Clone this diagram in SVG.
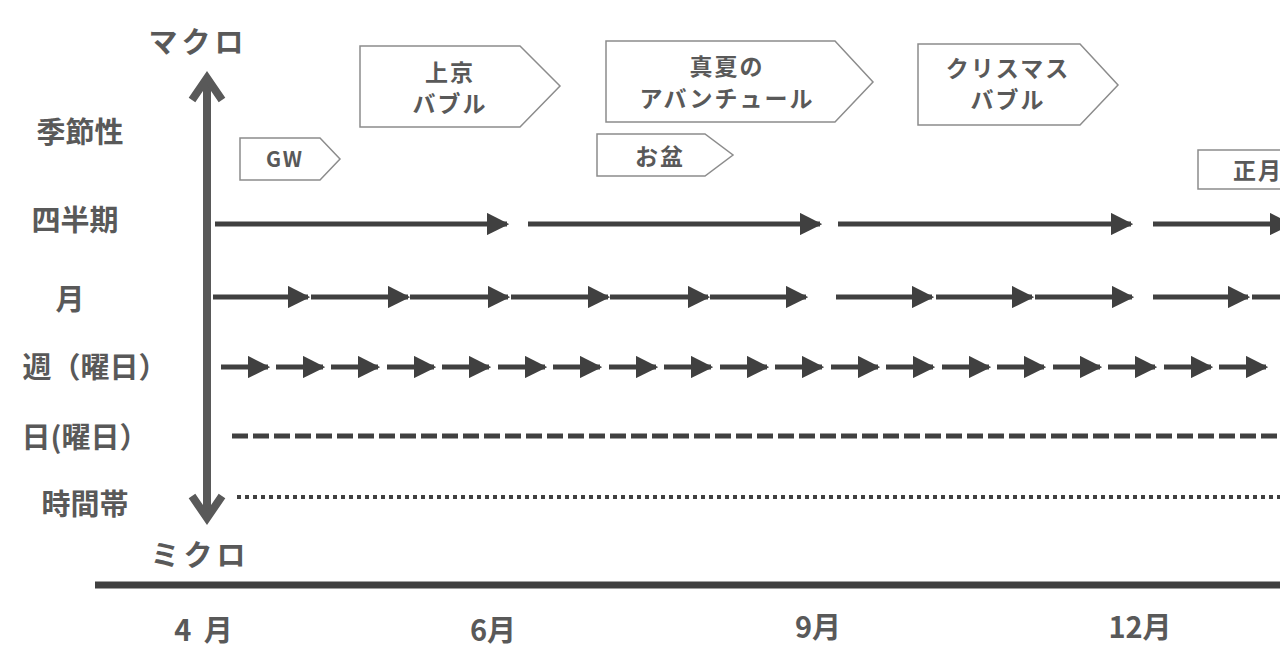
<svg xmlns="http://www.w3.org/2000/svg" width="1280" height="669" viewBox="0 0 1280 669">
<style>
text{font-family:"Noto Sans CJK JP","Noto Sans",sans-serif;font-weight:bold;fill:#595959;text-anchor:middle;dominant-baseline:central}
.lbl{font-size:29px}
.bx{fill:#fff;stroke:#8c8c8c;stroke-width:1.5}
.bt{font-size:23px;letter-spacing:2px}
.ln{stroke:#404040;stroke-width:5;fill:none}
</style>
<defs>
<marker id="ah" viewBox="0 0 10 10" refX="9" refY="5" markerWidth="4.5" markerHeight="4.5" markerUnits="strokeWidth" orient="auto"><path d="M0,0L10,5L0,10z" fill="#404040"/></marker>
</defs>
<rect width="1280" height="669" fill="#fff"/>
<g id="labels">
<text class="lbl" x="198" y="40" style="letter-spacing:4px">マクロ</text>
<text class="lbl" x="200" y="553" style="letter-spacing:4px">ミクロ</text>
<text class="lbl" x="80" y="130">季節性</text>
<text class="lbl" x="75" y="218">四半期</text>
<text class="lbl" x="70" y="297">月</text>
<text class="lbl" x="95" y="365">週（曜日）</text>
<text class="lbl" x="85" y="435">日(曜日）</text>
<text class="lbl" x="85" y="502">時間帯</text>
<text class="lbl" x="205" y="628" style="letter-spacing:3px">4 月</text>
<text class="lbl" x="493" y="628">6月</text>
<text class="lbl" x="818" y="625">9月</text>
<text class="lbl" x="1140" y="625">12月</text>
</g>
<g id="events">
<g id="gw"><path class="bx" d="M240,138H320L340,159L320,180H240z"/><text class="bt" x="285" y="158" style="font-size:21px">GW</text></g>
<g id="joukyou"><path class="bx" d="M360,46H520L560,86L520,127H360z"/><text class="bt" x="450" y="71">上京</text><text class="bt" x="450" y="102">バブル</text></g>
<g id="manatsu"><path class="bx" d="M606,41H835L873,82L835,122H606z"/><text class="bt" x="727" y="65">真夏の</text><text class="bt" x="727" y="97">アバンチュール</text></g>
<g id="obon"><path class="bx" d="M597,134H705L733,155L705,176H597z"/><text class="bt" x="660" y="155">お盆</text></g>
<g id="xmas"><path class="bx" d="M918,44H1080L1118,85L1080,125H918z"/><text class="bt" x="1008" y="67">クリスマス</text><text class="bt" x="1008" y="98">バブル</text></g>
<g id="shougatsu"><path class="bx" d="M1198,150H1290V189H1198z"/><text class="bt" x="1258" y="169">正月</text></g>
</g>
<g id="connectors">
<line x1="95" y1="585" x2="1280" y2="585" stroke="#404040" stroke-width="7"/>
<line x1="207" y1="78" x2="207" y2="518" stroke="#595959" stroke-width="8"/>
<path d="M192,100L207,78L222,100M192,496L207,518L222,496" fill="none" stroke="#595959" stroke-width="8"/>
<g class="ln" marker-end="url(#ah)">
<line x1="215" y1="224" x2="507" y2="224"/><line x1="528" y1="224" x2="820" y2="224"/><line x1="838" y1="224" x2="1131" y2="224"/><line x1="1153" y1="224" x2="1290" y2="224"/>
<line x1="213" y1="297" x2="308" y2="297"/><line x1="311" y1="297" x2="408" y2="297"/><line x1="410" y1="297" x2="508" y2="297"/><line x1="511" y1="297" x2="608" y2="297"/><line x1="610" y1="297" x2="708" y2="297"/><line x1="710" y1="297" x2="806" y2="297"/>
<line x1="836" y1="297" x2="932" y2="297"/><line x1="936" y1="297" x2="1032" y2="297"/><line x1="1035" y1="297" x2="1132" y2="297"/><line x1="1153" y1="297" x2="1248" y2="297"/><line x1="1252" y1="297" x2="1340" y2="297"/>
<line x1="221" y1="367" x2="268" y2="367"/><line x1="276" y1="367" x2="323" y2="367"/><line x1="331" y1="367" x2="378" y2="367"/><line x1="387" y1="367" x2="434" y2="367"/><line x1="442" y1="367" x2="489" y2="367"/><line x1="498" y1="367" x2="545" y2="367"/><line x1="553" y1="367" x2="600" y2="367"/><line x1="609" y1="367" x2="656" y2="367"/><line x1="664" y1="367" x2="711" y2="367"/><line x1="720" y1="367" x2="767" y2="367"/><line x1="775" y1="367" x2="822" y2="367"/><line x1="831" y1="367" x2="878" y2="367"/><line x1="886" y1="367" x2="933" y2="367"/><line x1="942" y1="367" x2="989" y2="367"/><line x1="997" y1="367" x2="1044" y2="367"/><line x1="1053" y1="367" x2="1100" y2="367"/><line x1="1108" y1="367" x2="1155" y2="367"/><line x1="1164" y1="367" x2="1211" y2="367"/><line x1="1219" y1="367" x2="1266" y2="367"/>
</g>
<line class="ln" x1="232" y1="436" x2="1280" y2="436" stroke-dasharray="16 5"/>
<line x1="237" y1="497" x2="1280" y2="497" stroke="#404040" stroke-width="4" stroke-dasharray="4 4"/>
</g>
</svg>
